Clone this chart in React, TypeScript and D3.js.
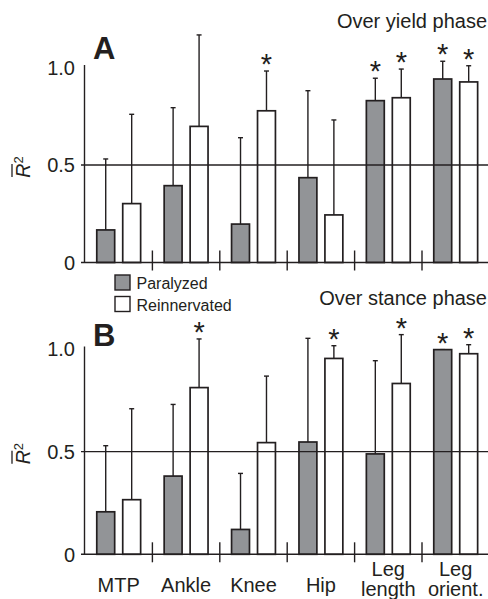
import React from "react";
import * as d3 from "d3";

// Joint / segment categories along the x axis
const categories = ["MTP", "Ankle", "Knee", "Hip", "Leg length", "Leg orient."];
const groups = ["Paralyzed", "Reinnervated"];
const yTicks = [0, 0.5, 1.0];
const yTickLabels = ["0", "0.5", "1.0"];

// Over yield phase: mean R² and upper end of the error bar
const yieldParalyzed = [0.167, 0.394, 0.197, 0.435, 0.83, 0.941];
const yieldReinnervated = [0.302, 0.698, 0.778, 0.244, 0.845, 0.926];
const yieldParalyzedUpper = [0.531, 0.794, 0.64, 0.881, 0.945, 1.032];
const yieldReinnervatedUpper = [0.76, 1.167, 0.982, 0.731, 0.992, 1.009];
const yieldParalyzedSig = [false, false, false, false, true, true];
const yieldReinnervatedSig = [false, false, true, false, true, true];

// Over stance phase
const stanceParalyzed = [0.207, 0.381, 0.121, 0.547, 0.489, 0.997];
const stanceReinnervated = [0.266, 0.812, 0.544, 0.954, 0.832, 0.977];
const stanceParalyzedUpper = [0.529, 0.73, 0.394, 1.052, 0.943, 0.997];
const stanceReinnervatedUpper = [0.709, 1.049, 0.868, 1.016, 1.07, 1.021];
const stanceParalyzedSig = [false, false, false, false, false, true];
const stanceReinnervatedSig = [false, true, false, true, true, true];

const INK = "#231f20";
const GRAY = "#929497";
const FONT = "'Liberation Sans', Arial, Helvetica, sans-serif";
const W = 488;
const H = 599;

type PanelProps = {
  letter: string;
  letterY: number;
  title: string;
  titleY: number;
  y0: number;
  y1: number;
  means: number[][];
  uppers: number[][];
  sig: boolean[][];
};

const x = d3.scaleBand<string>().domain(categories).range([85, 489.4]).padding(0);
const xInner = d3
  .scaleBand<string>()
  .domain(groups)
  .range([0, x.bandwidth()])
  .paddingInner(0.31)
  .paddingOuter(0.453);

function Panel({ letter, letterY, title, titleY, y0, y1, means, uppers, sig }: PanelProps) {
  const y = d3.scaleLinear().domain([0, 1]).range([y0, y1]);
  const axisX = 84.5;
  const bw = xInner.bandwidth();
  return (
    <g>
      <text x={487} y={titleY} textAnchor="end" fontSize={20} fill={INK} fontFamily={FONT}>
        {title}
      </text>
      <text x={93} y={letterY} fontSize={31} fontWeight="bold" fill={INK} fontFamily={FONT}>
        {letter}
      </text>
      {/* y axis */}
      <line x1={axisX} x2={axisX} y1={y(0)} y2={y(1) - 2.5} stroke={INK} strokeWidth={1.4} />
      {yTicks.map((t, i) => (
        <text
          key={t}
          x={75}
          y={y(t)}
          dy="0.36em"
          textAnchor="end"
          fontSize={20}
          fill={INK}
          fontFamily={FONT}
        >
          {yTickLabels[i]}
        </text>
      ))}
      {/* y label: R-bar squared */}
      <g transform={`translate(30, ${y(0.5)}) rotate(-90)`}>
        <text x={-2} y={0} textAnchor="middle" fill={INK} fontFamily={FONT}>
          <tspan fontSize={19.5} fontStyle="italic">R</tspan>
          <tspan fontSize={13} dy={-7}>2</tspan>
        </text>
        <line x1={-12} x2={1} y1={-18} y2={-18} stroke={INK} strokeWidth={1.3} />
      </g>
      {/* bars */}
      {categories.map((c, ci) =>
        groups.map((g, gi) => {
          const v = means[gi][ci];
          const up = uppers[gi][ci];
          const bx = (x(c) as number) + (xInner(g) as number);
          const cx = bx + bw / 2;
          return (
            <g key={c + g}>
              <line x1={cx} x2={cx} y1={y(v)} y2={y(up)} stroke={INK} strokeWidth={1.4} />
              <line x1={cx - 2.5} x2={cx + 2.5} y1={y(up)} y2={y(up)} stroke={INK} strokeWidth={1.4} />
              <rect
                x={bx}
                y={y(v)}
                width={bw}
                height={y(0) - y(v)}
                fill={gi === 0 ? GRAY : "#ffffff"}
                stroke={INK}
                strokeWidth={1.7}
              />
              {sig[gi][ci] && (
                <text
                  x={cx}
                  y={y(up) + 3}
                  textAnchor="middle"
                  fontSize={29}
                  fill={INK}
                  fontFamily={FONT}
                >
                  *
                </text>
              )}
            </g>
          );
        })
      )}
      {/* reference lines at 0 and 0.5 (drawn after bars) */}
      <line x1={81} x2={W} y1={y(0.5)} y2={y(0.5)} stroke={INK} strokeWidth={1.3} />
      <line x1={81} x2={W} y1={y(0)} y2={y(0)} stroke={INK} strokeWidth={1.4} />
      {/* group separators */}
      {categories.slice(1).map((c) => (
        <line
          key={c}
          x1={x(c) as number}
          x2={x(c) as number}
          y1={y(0) - 12}
          y2={y(0) + 8}
          stroke={INK}
          strokeWidth={1.4}
        />
      ))}
    </g>
  );
}

export default function App() {
  return (
    <div style={{ position: "absolute", left: 0, top: 0 }}>
      <svg width={W} height={H} viewBox={`0 0 ${W} ${H}`} style={{ display: "block", background: "#fff" }}>
        <rect width={W} height={H} fill="#fff" />
        <Panel
          letter="A"
          letterY={59}
          title="Over yield phase"
          titleY={27.5}
          y0={262.5}
          y1={67.5}
          means={[yieldParalyzed, yieldReinnervated]}
          uppers={[yieldParalyzedUpper, yieldReinnervatedUpper]}
          sig={[yieldParalyzedSig, yieldReinnervatedSig]}
        />
        <Panel
          letter="B"
          letterY={346}
          title="Over stance phase"
          titleY={305}
          y0={554.3}
          y1={349}
          means={[stanceParalyzed, stanceReinnervated]}
          uppers={[stanceParalyzedUpper, stanceReinnervatedUpper]}
          sig={[stanceParalyzedSig, stanceReinnervatedSig]}
        />
        {/* legend */}
        {groups.map((g, i) => (
          <g key={g} transform={`translate(115, ${275 + i * 21.5})`}>
            <rect x={0} y={0} width={15} height={15} fill={i === 0 ? GRAY : "#fff"} stroke={INK} strokeWidth={1.4} />
            <text x={21.5} y={14} fontSize={16} fill={INK} fontFamily={FONT}>
              {g}
            </text>
          </g>
        ))}
        {/* category labels */}
        {categories.map((c) => {
          const cx = (x(c) as number) + x.bandwidth() / 2;
          const parts = c.split(" ");
          if (parts.length === 1) {
            return (
              <text key={c} x={cx} y={591.5} textAnchor="middle" fontSize={20} fill={INK} fontFamily={FONT}>
                {c}
              </text>
            );
          }
          return (
            <text key={c} x={cx} y={576} textAnchor="middle" fontSize={20} fill={INK} fontFamily={FONT}>
              <tspan x={cx}>{parts[0]}</tspan>
              <tspan x={cx} dy={20}>
                {parts[1]}
              </tspan>
            </text>
          );
        })}
      </svg>
    </div>
  );
}
